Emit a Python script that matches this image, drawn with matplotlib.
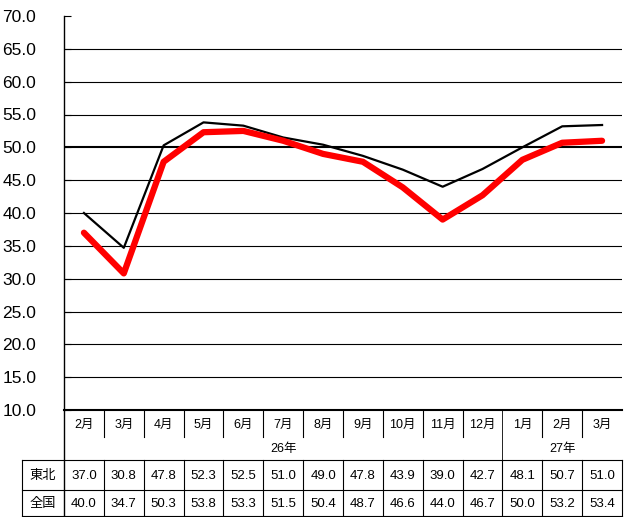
import matplotlib
matplotlib.use('Agg')
import matplotlib.pyplot as plt
from matplotlib.transforms import blended_transform_factory
from matplotlib.lines import Line2D

plt.rcParams['font.family'] = ['Liberation Sans', 'Noto Sans CJK JP']

months = ['2月', '3月', '4月', '5月', '6月', '7月', '8月', '9月', '10月', '11月', '12月', '1月', '2月', '3月']
years = ['26年', '27年']
year_span = [(0, 10), (11, 13)]
tohoku = [37.0, 30.8, 47.8, 52.3, 52.5, 51.0, 49.0, 47.8, 43.9, 39.0, 42.7, 48.1, 50.7, 51.0]
zenkoku = [40.0, 34.7, 50.3, 53.8, 53.3, 51.5, 50.4, 48.7, 46.6, 44.0, 46.7, 50.0, 53.2, 53.4]
row_names = ['東北', '全国']

W, H = 624, 517
fig = plt.figure(figsize=(W / 100, H / 100), dpi=100)
ax = fig.add_axes([64 / W, 107 / H, 558 / W, 394 / H])

x = list(range(len(months)))
for v in range(15, 70, 5):
    ax.axhline(v, color='black', lw=1.5 if v == 50 else 0.8, zorder=1)
ax.plot(x, zenkoku, color='black', lw=1.6, zorder=2)
ax.plot(x, tohoku, color='#ff0000', lw=4.5, solid_capstyle='round', solid_joinstyle='round', zorder=3)

ax.set_xlim(-0.5, 13.5)
ax.set_ylim(10, 70)
ax.set_yticks(range(10, 75, 5))
ax.set_yticklabels(['%.1f' % v for v in range(10, 75, 5)], fontsize=12.5)
ax.tick_params(axis='y', direction='in', length=5, pad=20)
ax.set_xticks([])
ax.spines['top'].set_visible(False)
ax.spines['right'].set_visible(False)
ax.spines['left'].set_linewidth(1.0)
ax.spines['bottom'].set_linewidth(1.5)

# table below the plot
tr = blended_transform_factory(ax.transData, fig.transFigure)
def fy(py):
    return 1 - py / H

def hline(x0, x1, py, lw=0.8):
    fig.add_artist(Line2D([x0, x1], [fy(py), fy(py)], transform=tr, color='black', lw=lw))

def vline(xv, py0, py1, lw=0.8):
    fig.add_artist(Line2D([xv, xv], [fy(py0), fy(py1)], transform=tr, color='black', lw=lw))

left_lab = -0.5 - 42 / 40
vline(-0.5, 410, 517, lw=1.0)
for i in range(1, len(months)):
    if i == 11:
        vline(i - 0.5, 410, 460, lw=0.6)
    else:
        vline(i - 0.5, 410, 437)
    vline(i - 0.5, 460, 517)
vline(13.5, 460, 517)
vline(left_lab, 460, 517)
hline(left_lab, 13.5, 460)
hline(left_lab, 13.5, 490)
hline(left_lab, 13.5, 516)

for i, m in enumerate(months):
    fig.text(i, fy(425), m, transform=tr, ha='center', va='center', fontsize=9)
for y, (a, b) in zip(years, year_span):
    fig.text((a + b) / 2, fy(449), y, transform=tr, ha='center', va='center', fontsize=9)
for r, (name, vals) in enumerate(zip(row_names, [tohoku, zenkoku])):
    py = 476 + r * 28
    fig.text((left_lab - 0.5) / 2, fy(py), name, transform=tr, ha='center', va='center', fontsize=9.5)
    for i, v in enumerate(vals):
        fig.text(i, fy(py), '%.1f' % v, transform=tr, ha='center', va='center', fontsize=9.5)

fig.savefig('out.png', dpi=100)
